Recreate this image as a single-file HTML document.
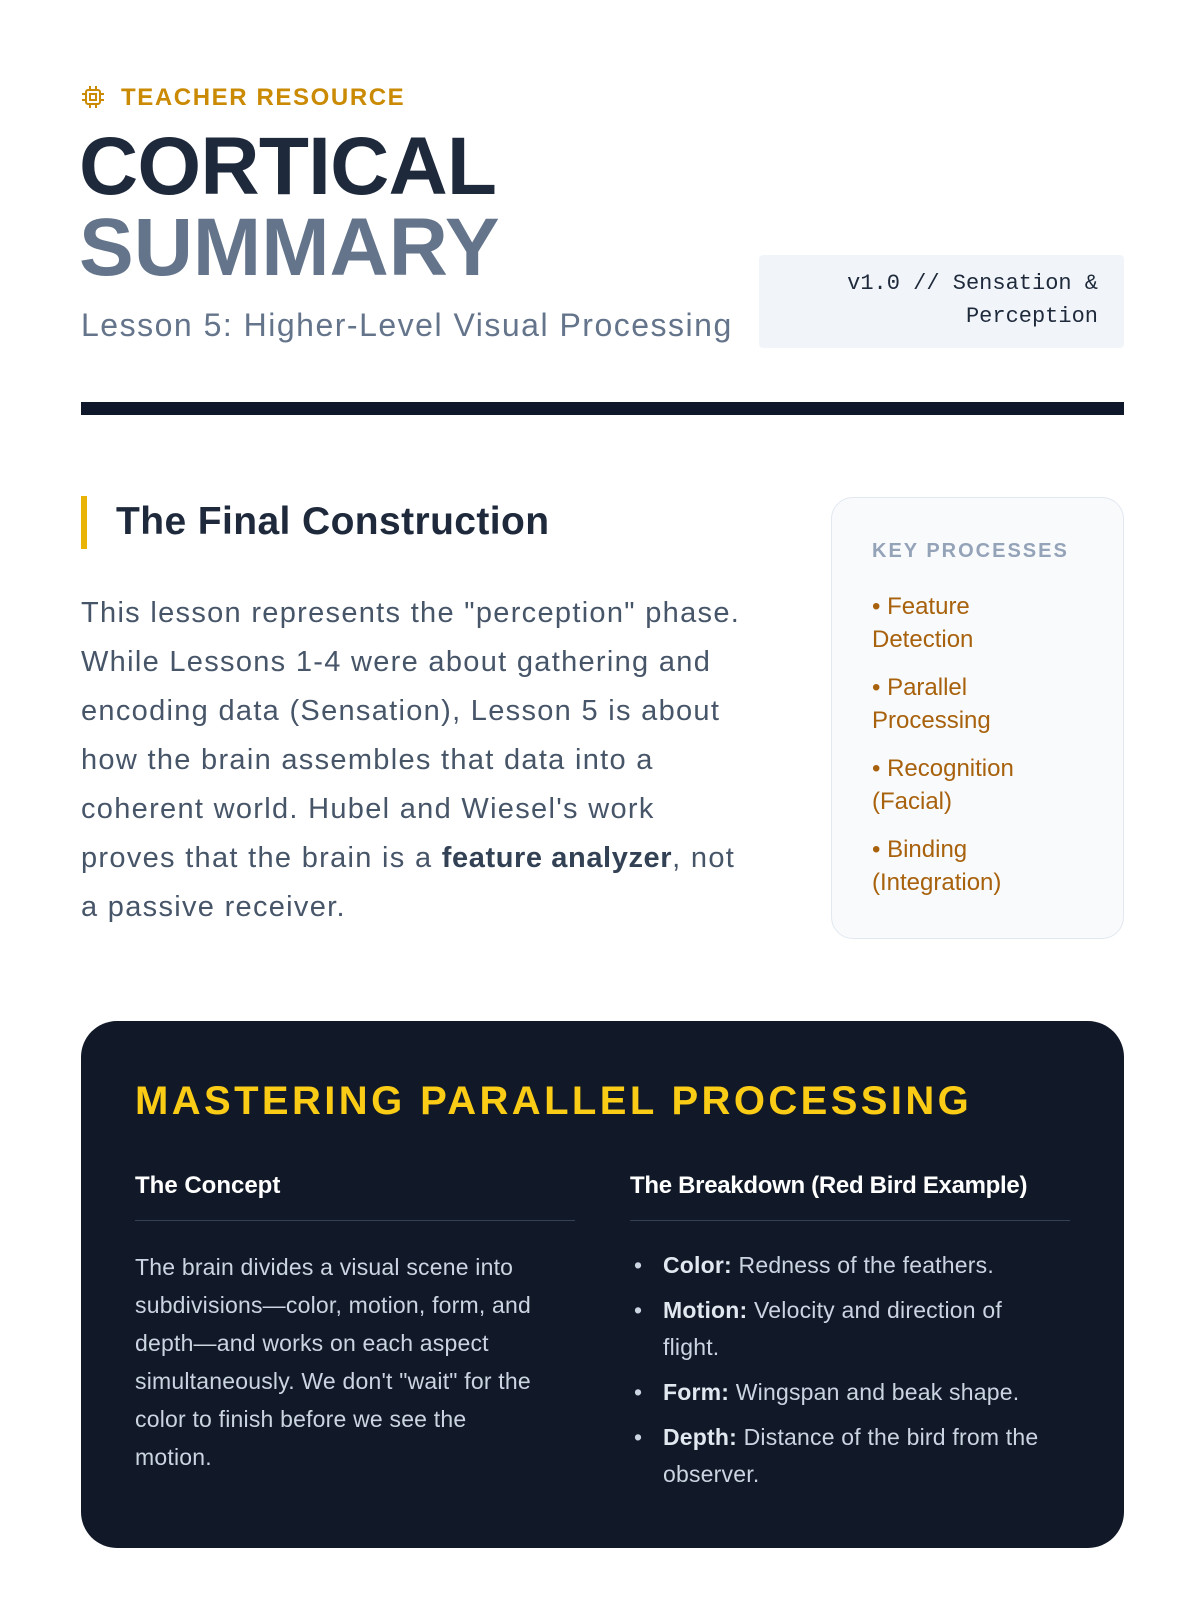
<!DOCTYPE html>
<html><head><meta charset="utf-8"><style>
*{margin:0;padding:0;box-sizing:border-box}
body{width:1200px;height:1600px;background:#fff;font-family:"Liberation Sans",sans-serif;position:relative;overflow:hidden}
.a{position:absolute;white-space:nowrap}
</style></head><body>
<svg class="a" style="left:81px;top:85px" width="24" height="24" viewBox="0 0 24 24" fill="none" stroke="#ca8a04" stroke-width="2"><rect x="5" y="5" width="14" height="14" rx="2"/><rect x="9" y="9" width="6" height="6"/><path d="M9 1v4M15 1v4M9 19v4M15 19v4M1 9h4M1 15h4M19 9h4M19 15h4"/></svg>
<div class="a" style="left:121px;top:84px;font-size:24px;font-weight:bold;letter-spacing:1.6px;color:#ca8a04;line-height:28px">TEACHER RESOURCE</div>
<div class="a" style="left:79px;top:127px;font-size:82px;font-weight:bold;color:#1e293b;line-height:80px;letter-spacing:-0.8px">CORTICAL</div>
<div class="a" style="left:79px;top:208px;font-size:82px;font-weight:bold;color:#64748b;line-height:80px;letter-spacing:0px">SUMMARY</div>
<div class="a" style="left:81px;top:306px;font-size:32px;letter-spacing:1.5px;color:#64748b;line-height:38px">Lesson 5: Higher-Level Visual Processing</div>
<div class="a" style="left:759px;top:255px;width:365px;height:93px;background:#f1f5f9;border-radius:4px"></div>
<div class="a" style="left:759px;top:267px;width:339px;text-align:right;font-family:'Liberation Mono',monospace;font-size:22px;line-height:33px;color:#1e293b">v1.0 // Sensation &amp;<br>Perception</div>
<div class="a" style="left:81px;top:402px;width:1043px;height:13px;background:#0f172a"></div>

<div class="a" style="left:81px;top:496px;width:6px;height:53px;background:#eab308"></div>
<div class="a" style="left:116px;top:500px;font-size:39px;font-weight:bold;color:#1e293b;line-height:44px;letter-spacing:0.4px">The Final Construction</div>
<div class="a" style="left:81px;top:589px;font-size:29px;line-height:49px;color:#475569;letter-spacing:1.3px">This lesson represents the "perception" phase.<br>While Lessons 1-4 were about gathering and<br>encoding data (Sensation), Lesson 5 is about<br>how the brain assembles that data into a<br>coherent world. Hubel and Wiesel's work<br>proves that the brain is a <b style="color:#334155;letter-spacing:0.6px">feature analyzer</b>, not<br>a passive receiver.</div>

<div class="a" style="left:831px;top:497px;width:293px;height:442px;background:#f8fafc;border:1.5px solid #e2e8f0;border-radius:22px"></div>
<div class="a" style="left:872px;top:539px;font-size:20px;font-weight:bold;letter-spacing:2px;color:#94a3b8;line-height:24px">KEY PROCESSES</div>
<div class="a" style="left:872px;top:590px;font-size:24px;line-height:33px;color:#a8610c">
<div style="margin-bottom:15px">• Feature<br>Detection</div>
<div style="margin-bottom:15px">• Parallel<br>Processing</div>
<div style="margin-bottom:15px">• Recognition<br>(Facial)</div>
<div>• Binding<br>(Integration)</div>
</div>

<div class="a" style="left:81px;top:1021px;width:1043px;height:527px;background:#111827;border-radius:36px"></div>
<div class="a" style="left:135px;top:1079px;font-size:40px;font-weight:bold;letter-spacing:3.4px;color:#facc15;line-height:44px">MASTERING PARALLEL PROCESSING</div>
<div class="a" style="left:135px;top:1172px;font-size:24px;font-weight:bold;color:#fff;line-height:28px">The Concept</div>
<div class="a" style="left:135px;top:1220px;width:440px;height:1px;background:#334155"></div>
<div class="a" style="left:135px;top:1248px;font-size:23px;line-height:38px;color:#cbd5e1;letter-spacing:0.2px">The brain divides a visual scene into<br>subdivisions—color, motion, form, and<br>depth—and works on each aspect<br>simultaneously. We don't "wait" for the<br>color to finish before we see the<br>motion.</div>
<div class="a" style="left:630px;top:1172px;font-size:24px;font-weight:bold;color:#fff;line-height:28px;letter-spacing:-0.3px">The Breakdown (Red Bird Example)</div>
<div class="a" style="left:630px;top:1220px;width:440px;height:1px;background:#334155"></div>
<div class="a" style="left:630px;top:1247px;font-size:23px;line-height:37px;color:#cbd5e1;letter-spacing:0.2px">
<div style="position:relative;padding-left:33px;margin-bottom:8px"><span style="position:absolute;left:4px">•</span><b style="color:#e2e8f0">Color:</b> Redness of the feathers.</div>
<div style="position:relative;padding-left:33px;margin-bottom:8px"><span style="position:absolute;left:4px">•</span><b style="color:#e2e8f0">Motion:</b> Velocity and direction of<br>flight.</div>
<div style="position:relative;padding-left:33px;margin-bottom:8px"><span style="position:absolute;left:4px">•</span><b style="color:#e2e8f0">Form:</b> Wingspan and beak shape.</div>
<div style="position:relative;padding-left:33px"><span style="position:absolute;left:4px">•</span><b style="color:#e2e8f0">Depth:</b> Distance of the bird from the<br>observer.</div>
</div>
</body></html>
